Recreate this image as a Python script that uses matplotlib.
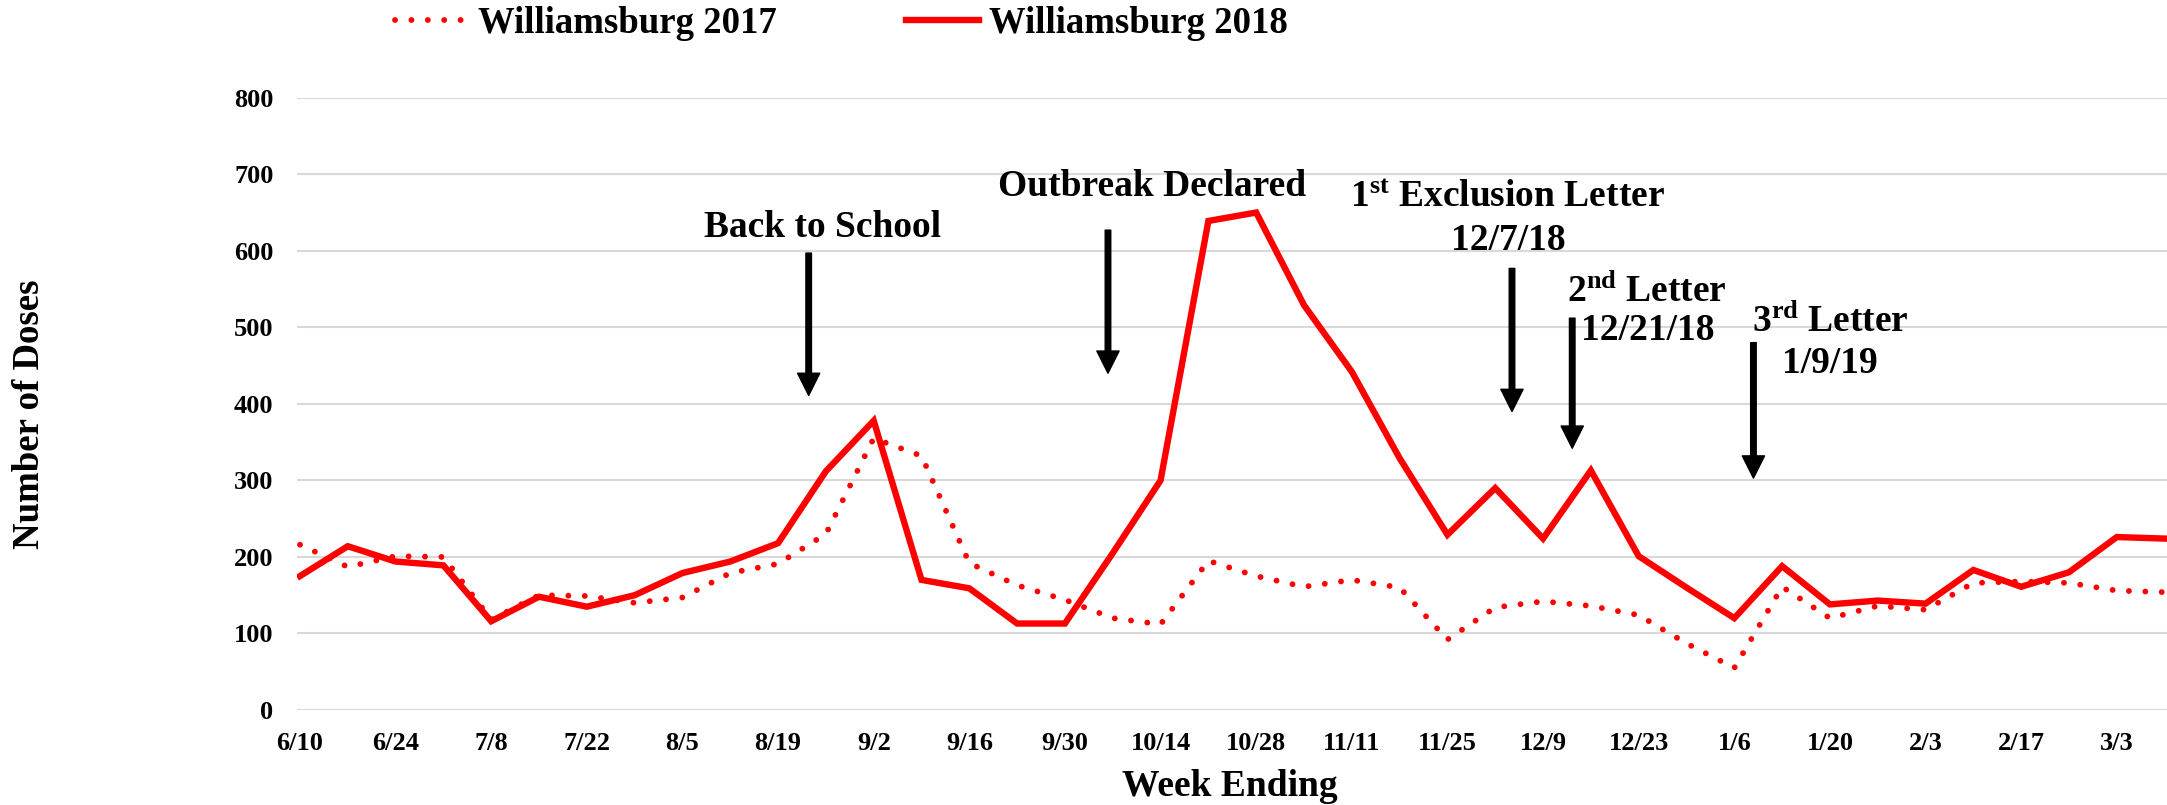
import numpy as np
import matplotlib as mpl
mpl.use('Agg')
mpl.rcParams['font.family'] = 'serif'
mpl.rcParams['font.serif'] = ['Liberation Serif', 'DejaVu Serif']
mpl.rcParams['font.weight'] = 'bold'
mpl.rcParams['mathtext.fontset'] = 'custom'
mpl.rcParams['mathtext.rm'] = 'Liberation Serif:bold'
mpl.rcParams['mathtext.it'] = 'Liberation Serif:bold'
mpl.rcParams['mathtext.bf'] = 'Liberation Serif:bold'
import matplotlib.pyplot as plt
#
# weekly data (week ending)
weeks = ['6/10', '6/17', '6/24', '7/1', '7/8', '7/15', '7/22', '7/29', '8/5', '8/12',
         '8/19', '8/26', '9/2', '9/9', '9/16', '9/23', '9/30', '10/7', '10/14', '10/21',
         '10/28', '11/4', '11/11', '11/18', '11/25', '12/2', '12/9', '12/16', '12/23', '12/30',
         '1/6', '1/13', '1/20', '1/27', '2/3', '2/10', '2/17', '2/24', '3/3', '3/10']
doses2017 = [216, 187, 201, 200, 118, 150, 149, 140, 147, 179,
             191, 230, 355, 332, 192, 163, 144, 120, 112, 195,
             175, 161, 170, 160, 92, 134, 142, 136, 124, 87,
             55, 161, 120, 136, 131, 166, 168, 166, 156, 154]
doses2018 = [175, 214, 194, 189, 116, 148, 135, 150, 179, 194,
             218, 312, 378, 170, 159, 113, 113, 205, 300, 639,
             650, 529, 442, 329, 229, 290, 224, 313, 201, 160,
             120, 188, 138, 143, 139, 183, 161, 180, 226, 224]
yticks = [0, 100, 200, 300, 400, 500, 600, 700, 800]
#
# annotations : text lines (x, y baseline) and arrows (x, y top, y tip)
labels_txt = [('Back to School', 10.92, 618),
              ('Outbreak Declared', 17.82, 671),
              ('1$^{\\mathrm{st}}$ Exclusion Letter', 25.26, 658),
              ('12/7/18', 25.28, 601),
              ('2$^{\\mathrm{nd}}$ Letter', 28.16, 533),
              ('12/21/18', 28.18, 483),
              ('3$^{\\mathrm{rd}}$ Letter', 32.0, 494),
              ('1/9/19', 32.0, 440)]
arrows = [(10.64, 597, 411),
          (16.90, 627, 440),
          (25.35, 577, 390),
          (26.61, 512, 342),
          (30.40, 480, 303)]
#
x = np.arange(len(weeks))
fig = plt.figure(figsize=(21.67, 8.05), dpi=100, facecolor='w')
ax = fig.add_axes([0.1371, 0.1180, 0.8629, 0.7606])
#
ax.plot(x, doses2017, color='#FF0000', lw=4.2, linestyle=(0, (0.01, 2.8)),
        dash_capstyle='round', label='Williamsburg 2017')
ax.plot(x, doses2018, color='#FF0000', lw=4.6, solid_joinstyle='miter',
        label='Williamsburg 2018')
#
ax.set_xlim(-0.06, 39.05)
ax.set_ylim(0, 800)
ax.set_yticks(yticks)
ax.set_xticks(x[::2])
ax.set_xticklabels(weeks[::2])
ax.grid(axis='y', color='#D9D9D9', lw=1.5)
ax.set_axisbelow(True)
for sp in ['top', 'bottom', 'left', 'right']:
    ax.spines[sp].set_visible(False)
ax.tick_params(axis='both', length=0, labelsize=19)
ax.tick_params(axis='x', pad=16)
ax.tick_params(axis='y', pad=17)
#
fig.text(0.5676, 0.0230, 'Week Ending', fontsize=27, ha='center', va='center')
fig.text(0.0138, 0.4857, 'Number of Doses', fontsize=26.5, rotation=90,
         ha='center', va='center')
#
for txt, tx, ty in labels_txt:
    ax.text(tx, ty, txt, fontsize=27, ha='center', va='baseline')
for ax_x, ytop, ytip in arrows:
    ax.annotate('', xy=(ax_x, ytip), xytext=(ax_x, ytop),
                arrowprops=dict(facecolor='black', edgecolor='black', width=4,
                                headwidth=16, headlength=16, shrink=0))
#
fig.legend(loc='center', bbox_to_anchor=(0.3883, 0.971), ncol=2, frameon=False,
           fontsize=26.5, handlelength=2.0, handletextpad=0.25, columnspacing=3.5)
#
plt.savefig('out.png', dpi=100)
